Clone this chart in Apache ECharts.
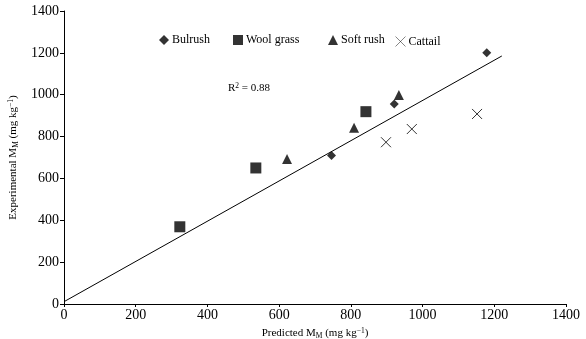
<!DOCTYPE html>
<html><head><meta charset="utf-8">
<script src="https://cdn.jsdelivr.net/npm/echarts@6/dist/echarts.min.js"></script>
<style>html,body{margin:0;padding:0;background:#fff}#c{width:586px;height:339px}</style>
</head><body><div id="c"></div>
<script>
var seriesNames = ['Bulrush', 'Wool grass', 'Soft rush', 'Cattail'];
var bulrushX = [746, 921, 1179];
var bulrushY = [709, 956, 1201];
var woolX = [323, 535, 842];
var woolY = [369, 650, 919];
var softX = [622, 809, 934];
var softY = [693, 842, 999];
var cattailX = [898, 970, 1152];
var cattailY = [773, 836, 908];
var fitX = [0, 1221];
var fitY = [11, 1185];
var axisTicks = [0, 200, 400, 600, 800, 1000, 1200, 1400];
var r2Label = '0.88';

function pairs(xs, ys) { return xs.map(function (x, i) { return [x, ys[i]]; }); }
var FONT = '"Liberation Serif", "Times New Roman", serif';
var crossPath = 'path://M0,0L10,10M10,0L0,10';

var chart = echarts.init(document.getElementById('c'), null, { renderer: 'canvas' });
var rich = {
  a: { fontFamily: FONT, fontSize: 11, fontWeight: 'normal', color: '#000' },
  sub: { fontFamily: FONT, fontSize: 7.5, fontWeight: 'normal', color: '#000', padding: [5, 0, 0, 0] },
  sup: { fontFamily: FONT, fontSize: 7.5, fontWeight: 'normal', color: '#000', padding: [0, 0, 5, 0] }
};
function legendAt(name, left, icon, extra) {
  var d = { name: name, icon: icon };
  if (extra) d.itemStyle = extra;
  return {
    data: [d], left: left, top: 29, itemWidth: 10, itemHeight: 10, itemGap: 0,
    textStyle: { fontFamily: FONT, fontSize: 12, color: '#000', padding: [0, 0, 0, -2] },
    selectedMode: false
  };
}
function plain(v) { return String(v); }
var option = {
  animation: false,
  backgroundColor: '#fff',
  grid: { left: 64, right: 20, top: 11, bottom: 35, containLabel: false, outerBoundsMode: 'none' },
  legend: [
    legendAt('Bulrush', 154, 'diamond'),
    legendAt('Wool grass', 228, 'rect'),
    legendAt('Soft rush', 323, 'triangle'),
    legendAt('Cattail', 388, crossPath, { color: 'none', borderColor: '#000', borderWidth: 0.6 })
  ],
  title: {
    text: '{a|R}{sup|2}{a| = }{a|' + r2Label + '}',
    left: 223, top: 77,
    textStyle: { fontWeight: 'normal', rich: rich }
  },
  xAxis: {
    type: 'value', min: axisTicks[0], max: axisTicks[axisTicks.length - 1], interval: 200,
    splitLine: { show: false },
    axisLine: { lineStyle: { color: '#000', width: 1 } },
    axisTick: { length: 3, lineStyle: { color: '#000' } },
    axisLabel: { fontFamily: FONT, fontSize: 14, color: '#000', margin: 4, formatter: plain },
    name: '{a|Predicted M}{sub|M}{a| (mg kg}{sup|−1}{a|)}',
    nameLocation: 'middle', nameGap: 21,
    nameTextStyle: { rich: rich }
  },
  yAxis: {
    type: 'value', min: axisTicks[0], max: axisTicks[axisTicks.length - 1], interval: 200,
    splitLine: { show: false },
    axisLine: { show: true, lineStyle: { color: '#000', width: 1 } },
    axisTick: { show: true, length: 4, lineStyle: { color: '#000' } },
    axisLabel: { fontFamily: FONT, fontSize: 14, color: '#000', margin: 5, formatter: plain },
    name: '{a|Experimental M}{sub|M}{a| (mg kg}{sup|−1}{a|)}',
    nameLocation: 'middle', nameGap: 37, nameRotate: 90,
    nameTextStyle: { rich: rich }
  },
  series: [
    { name: 'Bulrush', type: 'scatter', symbol: 'diamond', symbolSize: 9, data: pairs(bulrushX, bulrushY), itemStyle: { color: '#000' } },
    { name: 'Wool grass', type: 'scatter', symbol: 'rect', symbolSize: 11, data: pairs(woolX, woolY), itemStyle: { color: '#000' } },
    { name: 'Soft rush', type: 'scatter', symbol: 'triangle', symbolSize: 10, data: pairs(softX, softY), itemStyle: { color: '#000' } },
    { name: 'Cattail', type: 'scatter', symbol: crossPath, symbolSize: 10, data: pairs(cattailX, cattailY), itemStyle: { color: 'none', borderColor: '#000', borderWidth: 1 } },
    { name: 'fit', type: 'line', data: pairs(fitX, fitY), symbol: 'none', silent: true, lineStyle: { color: '#000', width: 1 }, z: 1 }
  ]
};
chart.setOption(option);
</script></body></html>
